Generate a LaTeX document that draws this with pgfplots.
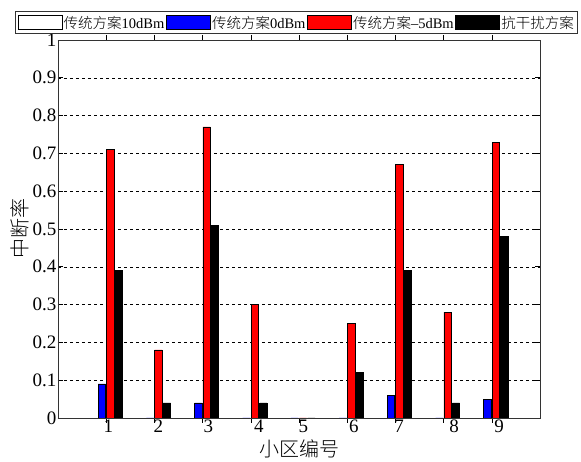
\documentclass[border=0pt]{standalone}
\usepackage{fontspec}
\setmainfont{Liberation Serif}
\newfontfamily\cjk{Noto Sans CJK SC Light}
\usepackage{pgfplots}
\pgfplotsset{compat=1.18}
\begin{document}
\begin{tikzpicture}
\begin{axis}[
  width=482pt, height=378pt, scale only axis,
  xmin=0, xmax=10, ymin=0, ymax=1,
  ytick={0,0.1,0.2,0.3,0.4,0.5,0.6,0.7,0.8,0.9,1},
  yticklabels={0,0.1,0.2,0.3,0.4,0.5,0.6,0.7,0.8,0.9,1},
  xtick={1,2,3,4,5,6,7,8,9}, xticklabels={},
  extra x ticks={1.044,2.08,3.118,4.17,5.09,6.14,7.075,8.216,9.15},
  extra x tick labels={1,2,3,4,5,6,7,8,9},
  extra x tick style={major tick length=0pt, grid=none},
  tick align=inside, major tick length=5pt,
  tick style={black, line width=0.6pt},
  axis line style={black!80, line width=0.8pt},
  ymajorgrids, major grid style={black, line width=0.5pt, dash pattern=on 3pt off 3pt},
  /pgf/number format/assume math mode=true,
  tick label style={font=\fontsize{19}{19}\selectfont},
  yticklabel style={inner sep=1.5pt},
  xticklabel style={inner sep=2pt},
  xlabel={\cjk 小区编号}, ylabel={\cjk 中断率},
  label style={font=\fontsize{20}{20}\selectfont},
  xlabel style={yshift=4pt},
  ylabel style={yshift=-2pt},
  ybar, bar width=7.4pt,
  every axis plot post/.append style={legend image code/.code={\draw[##1,line width=0.6pt] (0pt,-6.5pt) rectangle (44pt,7pt);}},
  legend columns=4,
  legend style={at={(0.5,1)}, anchor=south, yshift=6pt, xshift=-2.5pt, draw=black!80, line width=0.8pt,
    font=\fontsize{14.5}{15}\selectfont, inner sep=2pt,
    /tikz/every even column/.append style={column sep=0pt},
    nodes={inner xsep=1.5pt}},
]
\addplot[fill=white, draw=black, line width=0.6pt, bar shift=-12.8pt] coordinates {(1,0) (2,0) (3,0) (4,0) (5,0) (6,0) (7,0) (8,0) (9,0)};
\addplot[fill=blue, draw=black, line width=0.6pt, bar shift=-4.4pt] coordinates {(1,0.09) (2,0) (3,0.04) (4,0) (5,0) (6,0) (7,0.06) (8,0) (9,0.05)};
\addplot[fill=red, draw=black, line width=0.6pt, bar shift=4.0pt] coordinates {(1,0.71) (2,0.18) (3,0.77) (4,0.30) (5,0) (6,0.25) (7,0.67) (8,0.28) (9,0.73)};
\addplot[fill=black, draw=black, line width=0.6pt, bar shift=12.4pt] coordinates {(1,0.39) (2,0.04) (3,0.51) (4,0.04) (5,0) (6,0.12) (7,0.39) (8,0.04) (9,0.48)};
\legend{{\cjk 传统方案}10dBm,{\cjk 传统方案}0dBm,{\cjk 传统方案}–5dBm,{\cjk 抗干扰方案}}
\end{axis}
\path ([xshift=-58pt,yshift=-42pt]current axis.south west) rectangle ([xshift=41pt,yshift=40pt]current axis.north east);
\end{tikzpicture}
\end{document}
